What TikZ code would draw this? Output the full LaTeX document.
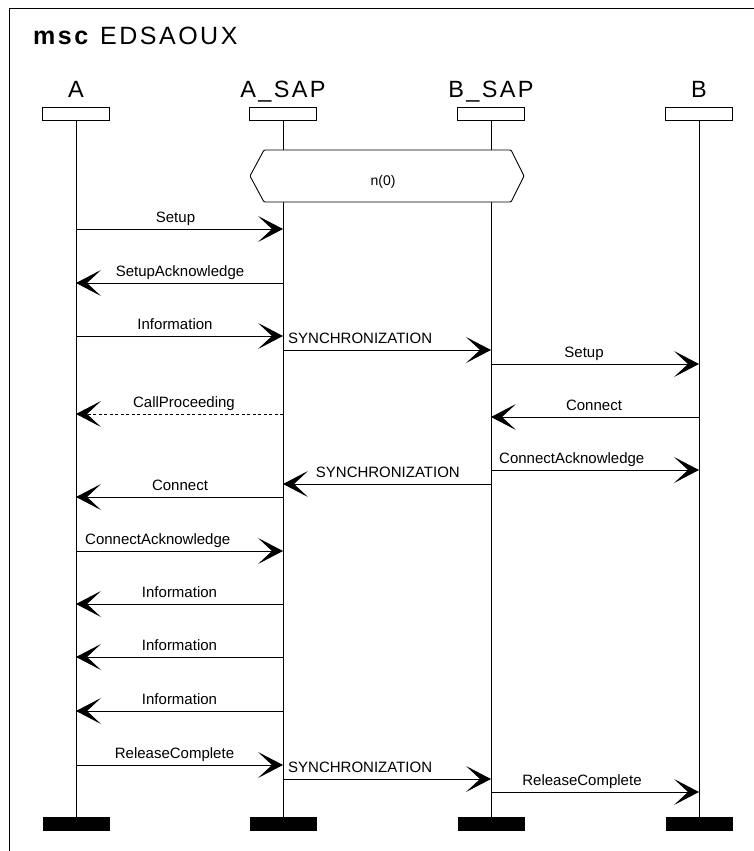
\documentclass[tikz,border=0pt]{standalone}
\usepackage{fontspec}
\setmainfont{Liberation Sans}
\usetikzlibrary{arrows.meta}
\begin{document}
\begin{tikzpicture}[x=1pt,y=-1pt,
  lifeline/.style={line width=0.9pt},
  headbox/.style={draw,line width=0.9pt,minimum width=67pt,minimum height=13pt,inner sep=0pt},
  endbar/.style={fill=black,minimum width=67pt,minimum height=14pt,inner sep=0pt},
  msg/.style={line width=0.9pt,-{Stealth[length=25pt,width=26pt,inset=14pt]}},
  lbl/.style={font=\fontsize{15}{18}\selectfont,inner sep=0pt,anchor=base},
  hdr/.style={font=\fontsize{23.5}{28}\selectfont\addfontfeature{LetterSpace=10},inner sep=0pt,anchor=base}]
\useasboundingbox (0,0) rectangle (754,851);
% frame
\draw[line width=1pt] (9,851) -- (9,9) -- (754,9);
\node[anchor=base west,inner sep=0pt,font=\fontsize{25}{30}\selectfont\addfontfeature{LetterSpace=10}] (title) at (33,45) {\textbf{msc} EDSAOUX};
% instance heads
\node[hdr] (lA) at (76,97) {A};
\node[hdr] (lAS) at (283,97) {A\_SAP};
\node[hdr] (lBS) at (491,97) {B\_SAP};
\node[hdr] (lB) at (699,97) {B};
\node[headbox] (hA) at (76,113.5) {};
\node[headbox] (hAS) at (283,113.5) {};
\node[headbox] (hBS) at (491,113.5) {};
\node[headbox] (hB) at (699,113.5) {};
% instance ends
\node[endbar] (eA) at (76,824) {};
\node[endbar] (eAS) at (283,824) {};
\node[endbar] (eBS) at (491,824) {};
\node[endbar] (eB) at (699,824) {};
% lifelines
\draw[lifeline] (hA.south) -- (eA.north);
\draw[lifeline] (hAS.south) -- (eAS.north);
\draw[lifeline] (hBS.south) -- (eBS.north);
\draw[lifeline] (hB.south) -- (eB.north);
% condition
\draw[line width=0.9pt,fill=white,rounded corners=1pt] (264,150) -- (511,150) -- (524,176) -- (511,202) -- (264,202) -- (250,176) -- cycle;
\node[lbl,font=\fontsize{14}{17}\selectfont] (cond) at (383,185) {n(0)};
% messages
\draw[msg] (hA |- 0,229) -- (hAS |- 0,229);
\node[lbl] (t1) at (175.5,222) {Setup};
\draw[msg] (hAS |- 0,283) -- (hA |- 0,283);
\node[lbl] (t2) at (180,276) {SetupAcknowledge};
\draw[msg] (hA |- 0,336) -- (hAS |- 0,336);
\node[lbl] (t3) at (175,329) {Information};
\draw[msg] (hAS |- 0,350) -- (hBS |- 0,350);
\node[lbl,anchor=base west] (t4) at (288,343) {SYNCHRONIZATION};
\draw[msg] (hBS |- 0,364) -- (hB |- 0,364);
\node[lbl] (t5) at (584,357) {Setup};
\draw[msg,dash pattern=on 3pt off 2.5pt] (hAS |- 0,414) -- (hA |- 0,414);
\node[lbl] (t6) at (184,407) {CallProceeding};
\draw[msg] (hB |- 0,417) -- (hBS |- 0,417);
\node[lbl] (t7) at (594,410) {Connect};
\draw[msg] (hBS |- 0,470) -- (hB |- 0,470);
\node[lbl,anchor=base west] (t8) at (499,463) {ConnectAcknowledge};
\draw[msg] (hBS |- 0,484) -- (hAS |- 0,484);
\node[lbl,anchor=base east] (t9) at (460,477) {SYNCHRONIZATION};
\draw[msg] (hAS |- 0,497) -- (hA |- 0,497);
\node[lbl] (t10) at (180,490) {Connect};
\draw[msg] (hA |- 0,551) -- (hAS |- 0,551);
\node[lbl,anchor=base west] (t11) at (85,544) {ConnectAcknowledge};
\draw[msg] (hAS |- 0,604) -- (hA |- 0,604);
\node[lbl] (t12) at (179.5,597) {Information};
\draw[msg] (hAS |- 0,657) -- (hA |- 0,657);
\node[lbl] (t13) at (179.5,650) {Information};
\draw[msg] (hAS |- 0,711) -- (hA |- 0,711);
\node[lbl] (t14) at (179.5,704) {Information};
\draw[msg] (hA |- 0,765) -- (hAS |- 0,765);
\node[lbl] (t15) at (174.5,758) {ReleaseComplete};
\draw[msg] (hAS |- 0,779) -- (hBS |- 0,779);
\node[lbl,anchor=base west] (t16) at (288,772) {SYNCHRONIZATION};
\draw[msg] (hBS |- 0,792) -- (hB |- 0,792);
\node[lbl] (t17) at (582,785) {ReleaseComplete};
\end{tikzpicture}
\end{document}
